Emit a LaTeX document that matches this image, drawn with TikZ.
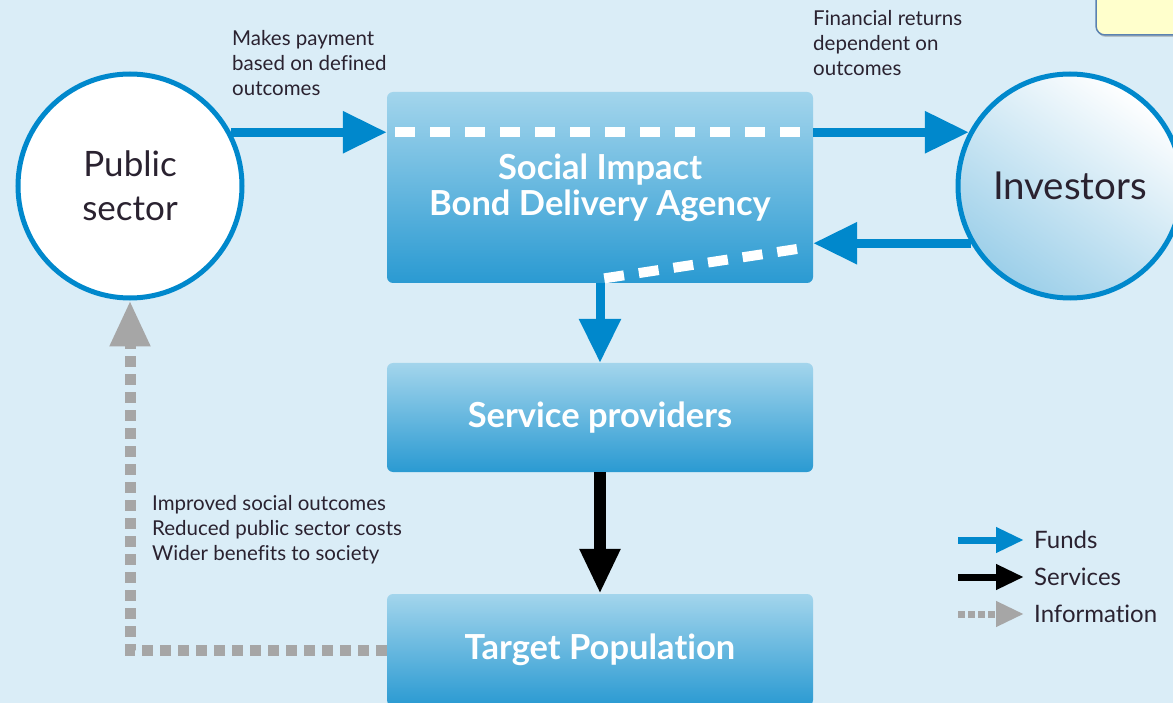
\documentclass[tikz,border=0pt]{standalone}
\usepackage{fontspec}
\setmainfont{Lato}[Ligatures=NoCommon]
\usetikzlibrary{arrows.meta,shadows}
\definecolor{bg}{HTML}{DAEDF7}
\definecolor{fund}{HTML}{0088CC}
\definecolor{boxtop}{HTML}{A3D5EC}
\definecolor{boxbot}{HTML}{2A9AD2}
\definecolor{info}{HTML}{A6A6A6}
\definecolor{txt}{HTML}{2A2230}
\definecolor{note}{HTML}{FFFFCC}
\definecolor{noteedge}{HTML}{5B82B0}
\definecolor{invlow}{HTML}{9CCFE9}
\begin{document}
\begin{tikzpicture}[x=1pt,y=-1pt,
  box/.style={rectangle, rounded corners=6pt, top color=boxtop, bottom color=boxbot, minimum width=426pt, inner sep=0pt, text=white, font=\fontsize{34.5}{36}\selectfont\bfseries, align=center},
  actor/.style={circle, draw=fund, line width=5pt, minimum size=224pt, inner sep=0pt, text=txt, align=center},
  fundarrow/.style={draw=fund, line width=9pt, -{Triangle[length=44pt,width=40pt]}},
  servarrow/.style={draw=black, line width=12pt, -{Triangle[length=45pt,width=38pt]}},
  infoline/.style={draw=info, line width=11pt, dash pattern=on 11pt off 7pt},
  whitedash/.style={draw=white, line width=10pt, dash pattern=on 20pt off 15pt},
  ann/.style={text=txt, font=\fontsize{20.5}{25}\selectfont, align=left, anchor=north west, inner sep=0pt},
  legtext/.style={text=txt, font=\fontsize{24}{28}\selectfont, anchor=west, inner sep=0pt}
]
\fill[bg] (0,0) rectangle (1173,703);
\useasboundingbox (0,0) rectangle (1173,703);

% note box (partly outside)
\node[draw=noteedge, line width=1.5pt, fill=note, rounded corners=9pt, minimum width=100pt, minimum height=60pt, drop shadow={shadow xshift=1pt, shadow yshift=-2pt, opacity=0.4}] (note) at (1146,5) {};

% boxes
\node[box, minimum height=191pt] (sib) at (600,187.5) {Social Impact\\Bond Delivery Agency};
\node[box, minimum height=109pt] (sp) at (600,417.5) {Service providers};
\node[box, minimum height=112pt] (tp) at (600,650) {Target Population};

% actors
\node[actor, fill=white, font=\fontsize{35}{44}\selectfont] (ps) at (130,186) {Public\\sector};
\node[actor, top color=white, bottom color=invlow, shading angle=-35, font=\fontsize{38.5}{44}\selectfont] (inv) at (1070,186) {Investors};

% white dashed lines inside agency
\coordinate (d0) at (395,132);
\coordinate (d1) at (797,249);
\coordinate (d2) at (600,279);
\draw[whitedash] (d0) -- (sib.east |- d0);
\draw[whitedash] (d1) -- (d2);

% funds
\draw[fundarrow] (ps.28) -- (ps.28 -| sib.west);
\draw[fundarrow] (sib.east |- inv.152) -- (inv.152);
\draw[fundarrow] (inv.210) -- (inv.210 -| sib.east);
\draw[fundarrow] (sib.south) -- (sp.north);

% services
\draw[servarrow] (sp.south) -- (tp.north);

% information
\draw[infoline, -{Triangle[length=46pt,width=38pt]}] (tp.west) -- (tp.west -| ps.south) -- (ps.south);

% annotations
\node[ann] (a1) at (232,30) {Makes payment\\based on defined\\outcomes};
\node[ann] (a2) at (813,10) {Financial returns\\dependent on\\outcomes};
\node[ann] (a3) at (152,495) {Improved social outcomes\\Reduced public sector costs\\Wider benefits to society};

% legend
\coordinate (lf0) at (958,540); \coordinate (lf1) at (1024,540);
\coordinate (ls0) at (958,577); \coordinate (ls1) at (1024,577);
\coordinate (li0) at (958,614); \coordinate (li1) at (1024,614);
\draw[draw=fund, line width=7pt, -{Triangle[length=28pt,width=24pt]}] (lf0) -- (lf1);
\draw[draw=black, line width=7pt, -{Triangle[length=28pt,width=24pt]}] (ls0) -- (ls1);
\draw[draw=info, line width=7pt, dash pattern=on 7pt off 3pt, -{Triangle[length=28pt,width=24pt]}] (li0) -- (li1);
\node[legtext] (lf) at (1034,540) {Funds};
\node[legtext] (ls) at (1034,577) {Services};
\node[legtext] (li) at (1034,614) {Information};
\end{tikzpicture}
\end{document}
